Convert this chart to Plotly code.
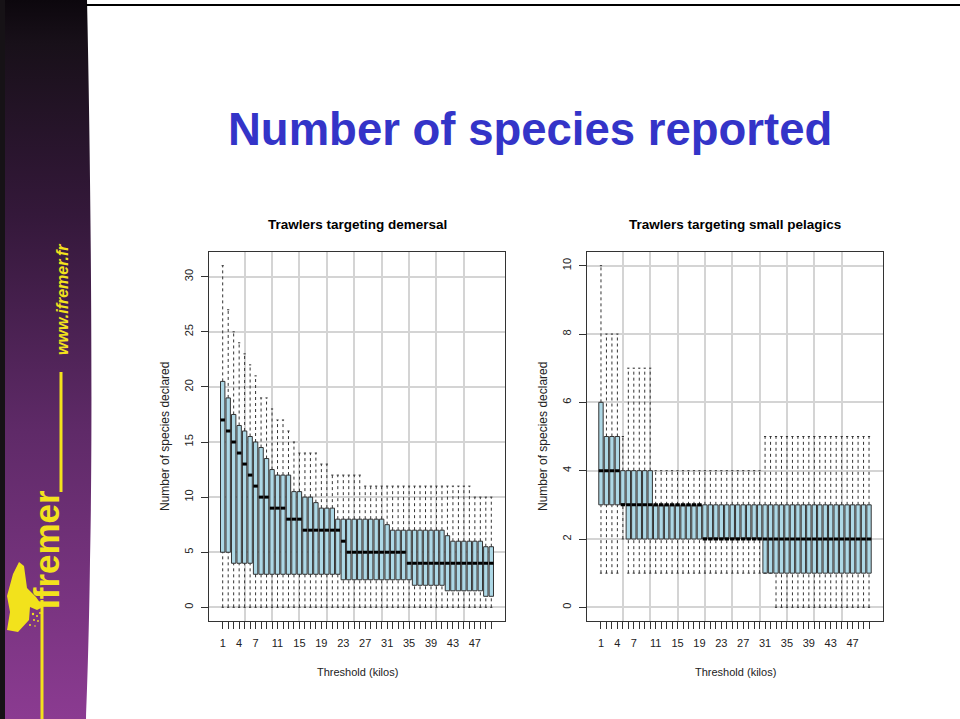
import base64
import plotly.graph_objects as go

# ---------------- data ----------------
thresholds = list(range(1, 51))
label_ticks = [1, 4, 7, 11, 15, 19, 23, 27, 31, 35, 39, 43, 47]
grid_x = [5, 10, 15, 20, 25, 30, 35, 40, 45]

# Trawlers targeting demersal
dem_lower = [0] * 50
dem_q1 = [5, 5, 4, 4, 4, 4, 3, 3, 3, 3,
          3, 3, 3, 3, 3, 3, 3, 3, 3, 3,
          3, 3, 2.5, 2.5, 2.5, 2.5, 2.5, 2.5, 2.5, 2.5,
          2.5, 2.5, 2.5, 2.5, 2.5, 2, 2, 2, 2, 2,
          2, 1.5, 1.5, 1.5, 1.5, 1.5, 1.5, 1.5, 1, 1]
dem_med = [17, 16, 15, 14, 13, 12, 11, 10, 10, 9,
           9, 9, 8, 8, 8, 7, 7, 7, 7, 7,
           7, 7, 6, 5, 5, 5, 5, 5, 5, 5,
           5, 5, 5, 5, 4, 4, 4, 4, 4, 4,
           4, 4, 4, 4, 4, 4, 4, 4, 4, 4]
dem_q3 = [20.5, 19, 17.5, 16.5, 16, 15.5, 15, 14.5, 13.5, 12.5,
          12, 12, 12, 10.5, 10.5, 10, 10, 9.5, 9, 9,
          9, 8, 8, 8, 8, 8, 8, 8, 8, 8,
          7.5, 7, 7, 7, 7, 7, 7, 7, 7, 7,
          7, 6.5, 6, 6, 6, 6, 6, 6, 5.5, 5.5]
dem_upper = [31, 27, 25, 24, 23, 22, 21, 19, 19, 18,
             17, 17, 16, 15, 14, 14, 14, 14, 13, 13,
             12, 12, 12, 12, 12, 12, 11, 11, 11, 11,
             11, 11, 11, 11, 11, 11, 11, 11, 11, 11,
             11, 11, 11, 11, 11, 11, 10, 10, 10, 10]

# Trawlers targeting small pelagics
pel_lower = [1, 1, 1, 1, 2, 1, 1, 1, 1, 1,
             1, 1, 1, 1, 1, 1, 1, 1, 1, 1,
             1, 1, 1, 1, 1, 1, 1, 1, 1, 1,
             1, 1, 0, 0, 0, 0, 0, 0, 0, 0,
             0, 0, 0, 0, 0, 0, 0, 0, 0, 0]
pel_q1 = [3, 3, 3, 3, 3, 2, 2, 2, 2, 2,
          2, 2, 2, 2, 2, 2, 2, 2, 2, 2,
          2, 2, 2, 2, 2, 2, 2, 2, 2, 2,
          1, 1, 1, 1, 1, 1, 1, 1, 1, 1,
          1, 1, 1, 1, 1, 1, 1, 1, 1, 1]
pel_med = [4, 4, 4, 4, 3, 3, 3, 3, 3, 3,
           3, 3, 3, 3, 3, 3, 3, 3, 3, 2,
           2, 2, 2, 2, 2, 2, 2, 2, 2, 2,
           2, 2, 2, 2, 2, 2, 2, 2, 2, 2,
           2, 2, 2, 2, 2, 2, 2, 2, 2, 2]
pel_q3 = [6, 5, 5, 5, 4, 4, 4, 4, 4, 4,
          3, 3, 3, 3, 3, 3, 3, 3, 3, 3,
          3, 3, 3, 3, 3, 3, 3, 3, 3, 3,
          3, 3, 3, 3, 3, 3, 3, 3, 3, 3,
          3, 3, 3, 3, 3, 3, 3, 3, 3, 3]
pel_upper = [10, 8, 8, 8, 5, 7, 7, 7, 7, 7,
             4, 4, 4, 4, 4, 4, 4, 4, 4, 4,
             4, 4, 4, 4, 4, 4, 4, 4, 4, 4,
             5, 5, 5, 5, 5, 5, 5, 5, 5, 5,
             5, 5, 5, 5, 5, 5, 5, 5, 5, 5]

# ---------------- style ----------------
W, H = 960, 719
FONT = "Liberation Sans, Arial, Helvetica, sans-serif"
BOX_W = 0.8
STAPLE_HW = 0.2
FILL = "#ADD8E6"
EDGE = "#333333"
GRID = "#d4d4d4"
TXT = "#222222"


def px(x):
    return x / W


def py(y):
    return 1 - y / H


def segs_vertical(xs, lo, hi):
    X, Y = [], []
    for x, a, b in zip(xs, lo, hi):
        if a != b:
            X += [x, x, None]
            Y += [a, b, None]
    return X, Y


def segs_horizontal(xs, vals, hw):
    X, Y = [], []
    for x, v in zip(xs, vals):
        X += [x - hw, x + hw, None]
        Y += [v, v, None]
    return X, Y


fig = go.Figure()


def add_panel(xa, ya, lower, q1, med, q3, upper):
    fig.add_trace(go.Box(
        x=thresholds, q1=q1, median=med, q3=q3,
        lowerfence=q1, upperfence=q3,
        width=BOX_W, whiskerwidth=0, boxpoints=False,
        fillcolor=FILL, line=dict(color=EDGE, width=1),
        xaxis=xa, yaxis=ya, showlegend=False, hoverinfo="skip"))
    # dashed whiskers
    wx1, wy1 = segs_vertical(thresholds, q3, upper)
    wx2, wy2 = segs_vertical(thresholds, lower, q1)
    fig.add_trace(go.Scatter(
        x=wx1 + wx2, y=wy1 + wy2, mode="lines",
        line=dict(color="#333333", width=1, dash="3px,3px"),
        xaxis=xa, yaxis=ya, showlegend=False, hoverinfo="skip"))
    # staples
    sx1, sy1 = segs_horizontal(thresholds, upper, STAPLE_HW)
    sx2, sy2 = segs_horizontal(thresholds, lower, STAPLE_HW)
    fig.add_trace(go.Scatter(
        x=sx1 + sx2, y=sy1 + sy2, mode="lines",
        line=dict(color="#333333", width=1),
        xaxis=xa, yaxis=ya, showlegend=False, hoverinfo="skip"))
    # thick medians
    mx, my = segs_horizontal(thresholds, med, BOX_W / 2)
    fig.add_trace(go.Scatter(
        x=mx, y=my, mode="lines",
        line=dict(color="#000000", width=3),
        xaxis=xa, yaxis=ya, showlegend=False, hoverinfo="skip"))


add_panel("x", "y", dem_lower, dem_q1, dem_med, dem_q3, dem_upper)
add_panel("x2", "y2", pel_lower, pel_q1, pel_med, pel_q3, pel_upper)

ticktext = [str(t) if t in label_ticks else "" for t in thresholds]

xcommon = dict(
    range=[-1.5, 52.5], tickmode="array", tickvals=thresholds, ticktext=ticktext,
    ticks="outside", ticklen=7, tickcolor="#333333", tickwidth=1,
    showgrid=False, zeroline=False,
    showline=True, mirror=True, linecolor="#333333", linewidth=1,
    tickfont=dict(family=FONT, size=11, color=TXT), ticklabelstandoff=5,
    minor=dict(tickmode="array", tickvals=grid_x, showgrid=True,
               gridcolor=GRID, gridwidth=1.5, ticks=""),
)
ycommon = dict(
    tickmode="array", ticks="outside", ticklen=7, tickcolor="#333333", tickwidth=1,
    tickangle=-90, showgrid=True, gridcolor=GRID, gridwidth=1.5, zeroline=False,
    showline=True, mirror=True, linecolor="#333333", linewidth=1,
    tickfont=dict(family=FONT, size=11, color=TXT), ticklabelstandoff=4,
)

ydom = [py(621), py(252)]
fig.update_layout(
    width=W, height=H, margin=dict(l=0, r=0, t=0, b=0),
    paper_bgcolor="white", plot_bgcolor="white", showlegend=False,
    xaxis=dict(domain=[px(209), px(505)], anchor="y", **xcommon),
    yaxis=dict(domain=ydom, anchor="x", range=[-1.24, 32.24],
               tickvals=[0, 5, 10, 15, 20, 25, 30], **ycommon),
    xaxis2=dict(domain=[px(587.3), px(882.7)], anchor="y2", **xcommon),
    yaxis2=dict(domain=ydom, anchor="x2", range=[-0.4, 10.4],
                tickvals=[0, 2, 4, 6, 8, 10], **ycommon),
)

# ---------------- texts ----------------
ann = []
ann.append(dict(text="<b>Number of species reported</b>", x=px(530), y=py(130),
                font=dict(family=FONT, size=45.5, color="#3434c8")))
for cx, t in [(357, "Trawlers targeting demersal"), (735, "Trawlers targeting small pelagics")]:
    ann.append(dict(text="<b>" + t + "</b>", x=px(cx), y=py(224),
                    font=dict(family=FONT, size=13.5, color="#000000")))
    ann.append(dict(text="Threshold (kilos)", x=px(cx), y=py(672),
                    font=dict(family=FONT, size=11, color=TXT)))
for cx in [165, 543]:
    ann.append(dict(text="Number of species declared", x=px(cx), y=py(437), textangle=-90,
                    font=dict(family=FONT, size=12, color=TXT)))
ann.append(dict(text="<b><i>www.ifremer.fr</i></b>", x=px(62), y=py(300), textangle=-90,
                font=dict(family=FONT, size=16, color="#f2e21c")))
ann.append(dict(text="<b>Ifremer</b>", x=px(46), y=py(550), textangle=-90,
                font=dict(family=FONT, size=35, color="#f2e21c")))
for a in ann:
    a.update(xref="paper", yref="paper", showarrow=False, xanchor="center", yanchor="middle")
fig.update_layout(annotations=ann)

# ---------------- side banner (decoration) ----------------
svg = f"""<svg xmlns='http://www.w3.org/2000/svg' width='100' height='{H}' viewBox='0 0 100 {H}' preserveAspectRatio='none'>
<defs><linearGradient id='g' x1='0' y1='0' x2='0' y2='1'>
<stop offset='0' stop-color='#0c070d'/>
<stop offset='0.06' stop-color='#181019'/>
<stop offset='0.3' stop-color='#34183a'/>
<stop offset='0.6' stop-color='#5f2a68'/>
<stop offset='1' stop-color='#8b3b91'/>
</linearGradient></defs>
<rect x='0' y='0' width='5' height='{H}' fill='#161216'/>
<path d='M5,0 L87,0 C91,180 93,430 90,560 C89,640 87,690 86,{H} L5,{H} Z' fill='url(#g)'/>
<path d='M13,574 L19,562 L24,566 L27,588 L36,597 L43,607 L37,610 L30,607 L29,620 L18,632 L7,630 L10,612 L7,596 Z' fill='#f2e21c'/>
<g fill='#f2e21c'>
<circle cx='33' cy='614' r='1.2'/><circle cx='37' cy='616' r='1'/><circle cx='40' cy='613' r='1'/>
<circle cx='34' cy='620' r='1'/><circle cx='38' cy='621' r='0.9'/><circle cx='42' cy='618' r='0.8'/>
<circle cx='30' cy='625' r='1'/><circle cx='35' cy='626' r='0.8'/>
</g>
<line x1='61' y1='372' x2='61' y2='492' stroke='#f2e21c' stroke-width='3'/>
<line x1='42' y1='600' x2='42' y2='{H}' stroke='#f2e21c' stroke-width='3'/>
</svg>"""
src = "data:image/svg+xml;base64," + base64.b64encode(svg.encode()).decode()
fig.add_layout_image(dict(source=src, xref="paper", yref="paper", x=0, y=1,
                          sizex=px(100), sizey=1, sizing="stretch",
                          xanchor="left", yanchor="top", layer="below"))

fig.add_shape(type="line", xref="paper", yref="paper", x0=px(86), x1=1, y0=py(5), y1=py(5),
              line=dict(color="#000000", width=2))

# remove the browser's default page margin so the figure sits at (0, 0)
fig.write_html("out.html", config={"displayModeBar": False},
               post_script="document.body.style.margin='0';document.body.style.overflow='hidden';")
